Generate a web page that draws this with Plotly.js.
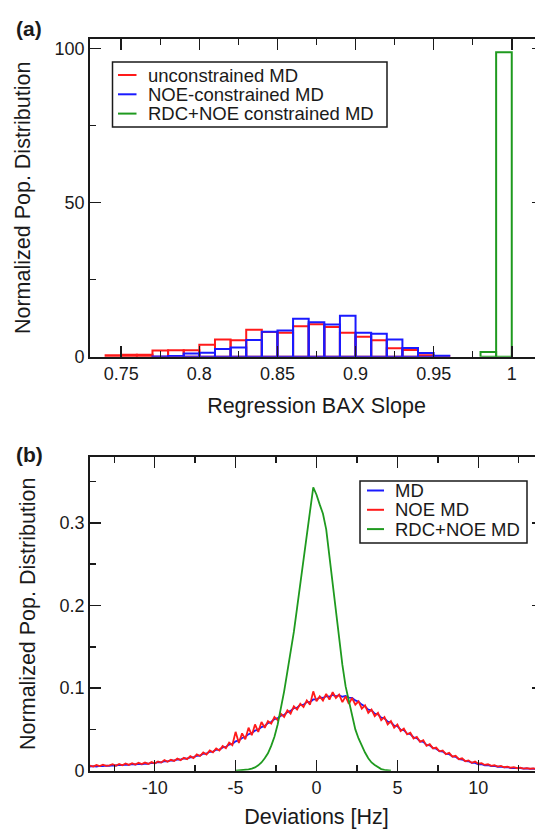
<!DOCTYPE html>
<html>
<head>
<meta charset="utf-8">
<script src="https://cdn.plot.ly/plotly-3.0.1.min.js"></script>
<style>
html, body { margin: 0; padding: 0; overflow: hidden; background: #fff; }
#chart { width: 545px; height: 829px; }
</style>
</head>
<body>
<div id="chart"></div>
<script>
// ---------- Panel (a): histogram of regression BAX slopes ----------
const slopeBins = [0.745, 0.755, 0.765, 0.775, 0.785, 0.795, 0.805, 0.815, 0.825, 0.835,
                   0.845, 0.855, 0.865, 0.875, 0.885, 0.895, 0.905, 0.915, 0.925, 0.935,
                   0.945, 0.955, 0.965, 0.975, 0.985, 0.995];
const slopeUnconstrained = [0.5, 0.6, 0.6, 2.0, 2.1, 2.1, 3.9, 5.6, 5.3, 8.7,
                            8.0, 7.8, 9.9, 10.5, 9.6, 7.8, 6.5, 5.3, 2.7, 2.2,
                            0.5, 0.2, null, null, null, null];
const slopeNOE = [null, null, null, 0.1, 0.2, 1.0, 1.3, 2.5, 3.0, 5.4,
                  8.1, 8.5, 12.3, 11.2, 10.4, 13.3, 7.8, 7.4, 5.6, 2.8,
                  1.2, 0.3, null, null, null, null];
const slopeRDC = [null, null, null, null, null, null, null, null, null, null,
                  null, null, null, null, null, null, null, null, null, null,
                  null, null, null, null, 1.5, 98.7];
const slopeBinWidth = 0.01;

// ---------- Panel (b): deviation distributions ----------
const devStart = -14.0;   // Hz, first sample
const devStep = 0.2;      // Hz, sample spacing
const devMD = [
  .0048,.0055,.0050,.0058,.0056,.0062,.0058,.0066,.0063,.0070,
  .0067,.0074,.0071,.0079,.0075,.0082,.0078,.0087,.0084,.0094,
  .0091,.0103,.0101,.0115,.0112,.0124,.0121,.0136,.0133,.0148,
  .0146,.0162,.0161,.0181,.0183,.0205,.0207,.0229,.0232,.0253,
  .0256,.0281,.0288,.0316,.0325,.0356,.0366,.0396,.0408,.0442,
  .0455,.0486,.0496,.0528,.0541,.0576,.0589,.0624,.0635,.0666,
  .0676,.0710,.0723,.0757,.0764,.0797,.0800,.0830,.0831,.0862,
  .0862,.0886,.0880,.0902,.0895,.0918,.0900,.0913,.0895,.0905,
  .0885,.0880,.0850,.0835,.0800,.0778,.0738,.0730,.0690,.0682,
  .0642,.0634,.0594,.0586,.0546,.0538,.0498,.0490,.0450,.0442,
  .0402,.0394,.0354,.0348,.0313,.0307,.0274,.0266,.0236,.0232,
  .0204,.0200,.0172,.0168,.0141,.0135,.0116,.0114,.0096,.0094,
  .0076,.0078,.0065,.0067,.0057,.0058,.0048,.0050,.0040,.0042,
  .0032,.0035,.0029,.0032,.0025,.0028,.0021,.0024,.0017,.0020,
  .0014];
const devNOE = [
  .0062,.0050,.0068,.0055,.0072,.0058,.0064,.0078,.0060,.0082,
  .0066,.0088,.0070,.0090,.0074,.0095,.0080,.0098,.0082,.0104,
  .0088,.0112,.0098,.0128,.0108,.0132,.0118,.0148,.0128,.0156,
  .0140,.0176,.0152,.0198,.0178,.0220,.0196,.0246,.0222,.0270,
  .0244,.0300,.0272,.0340,.0310,.0470,.0335,.0452,.0380,.0520,
  .0430,.0560,.0470,.0590,.0520,.0600,.0570,.0650,.0610,.0690,
  .0650,.0730,.0690,.0780,.0740,.0810,.0770,.0850,.0800,.0960,
  .0840,.0900,.0850,.0930,.0860,.0950,.0880,.0920,.0830,.0900,
  .0810,.0880,.0800,.0840,.0750,.0790,.0700,.0740,.0660,.0700,
  .0610,.0650,.0560,.0600,.0520,.0560,.0480,.0510,.0440,.0460,
  .0390,.0410,.0350,.0370,.0300,.0320,.0270,.0280,.0235,.0245,
  .0200,.0215,.0170,.0180,.0140,.0150,.0115,.0125,.0095,.0110,
  .0085,.0092,.0070,.0078,.0058,.0066,.0050,.0058,.0042,.0050,
  .0036,.0042,.0030,.0036,.0026,.0032,.0024,.0028,.0020,.0026,
  .0018];
const rdcStart = -5.0;    // Hz, first sample of RDC+NOE curve
const devRDC = [
  0, .0002, .0005, .0010, .0015, .0025, .0040, .0065, .0100, .0150,
  .0210, .0300, .0410, .0560, .0740, .0960, .1200, .1420, .1680, .1970,
  .2280, .2560, .2880, .3140, .3430, .3340, .3220, .3110, .2920, .2580,
  .2250, .1900, .1600, .1280, .1020, .0850, .0660, .0500, .0390, .0300,
  .0220, .0150, .0100, .0070, .0040, .0020, .0010, .0005, 0];

const devTickVals = [-10, -5, 0, 5, 10];
const devTickText = ['-10', '-5', '0', '5', '10'];

const legendA = ['unconstrained MD', 'NOE-constrained MD', 'RDC+NOE constrained MD'];
const legendB = ['MD', 'NOE MD', 'RDC+NOE MD'];

// ---------- styling ----------
const RED = '#ff1a1a', BLUE = '#1a1aff', GREEN = '#1f9a1f';
const FONT = 'Liberation Sans, Arial, Helvetica, sans-serif';
const INK = '#1a1a1a';
const W = 545, H = 829, ML = 90, MR = 2;
const px = v => (v - ML) / (W - ML - MR);   // pixel x -> paper x
const py = v => 1 - v / H;                  // pixel y -> paper y

function histBar(y, color) {
  return {type: 'bar', x: slopeBins, y: y, width: slopeBinWidth,
          marker: {color: 'rgba(0,0,0,0)', line: {color: color, width: 2}},
          xaxis: 'x', yaxis: 'y', showlegend: false, hoverinfo: 'skip'};
}
function devLine(y, x0, color) {
  return {type: 'scatter', mode: 'lines', x0: x0, dx: devStep, y: y,
          line: {color: color, width: 1.8}, xaxis: 'x2', yaxis: 'y2',
          showlegend: false, hoverinfo: 'skip'};
}

const data = [
  histBar(slopeUnconstrained, RED),
  histBar(slopeNOE, BLUE),
  histBar(slopeRDC, GREEN),
  devLine(devMD, devStart, BLUE),
  devLine(devNOE, devStart, RED),
  devLine(devRDC, rdcStart, GREEN)
];

const axisCommon = {
  showline: true, linecolor: INK, linewidth: 1.8, mirror: 'ticks',
  ticks: 'inside', ticklen: 11, tickwidth: 1.5, tickcolor: INK,
  showgrid: false, zeroline: false,
  tickfont: {family: FONT, size: 18, color: INK},
  automargin: false
};
const minorCommon = {ticks: 'inside', ticklen: 6, tickwidth: 1.5, tickcolor: INK};

// custom legends (box, sample lines, labels)
const shapes = [];
const annotations = [];
function addLegend(box, rows, sampleX, textX, labels, colors) {
  shapes.push({type: 'rect', xref: 'paper', yref: 'paper',
               x0: px(box[0]), x1: px(box[2]), y0: py(box[3]), y1: py(box[1]),
               line: {color: INK, width: 1.5}, fillcolor: 'white', layer: 'above'});
  labels.forEach((t, i) => {
    shapes.push({type: 'line', xref: 'paper', yref: 'paper',
                 x0: px(sampleX[0]), x1: px(sampleX[1]), y0: py(rows[i]), y1: py(rows[i]),
                 line: {color: colors[i], width: 2}, layer: 'above'});
    annotations.push({xref: 'paper', yref: 'paper', x: px(textX), y: py(rows[i]),
                      xanchor: 'left', yanchor: 'middle', showarrow: false, text: t,
                      font: {family: FONT, size: 18.5, color: INK}});
  });
}
addLegend([112.5, 62, 387, 127], [75, 94.3, 113.6], [118, 136.5], 146, legendA, [RED, BLUE, GREEN]);
addLegend([360, 481, 527, 543], [490.5, 509.8, 529.1], [367, 384], 393, legendB, [BLUE, RED, GREEN]);

annotations.push({xref: 'paper', yref: 'paper', x: px(29), y: py(29), xanchor: 'center', yanchor: 'middle',
                  showarrow: false, text: '<b>(a)</b>', font: {family: FONT, size: 21, color: INK}});
annotations.push({xref: 'paper', yref: 'paper', x: px(29), y: py(454), xanchor: 'center', yanchor: 'middle',
                  showarrow: false, text: '<b>(b)</b>', font: {family: FONT, size: 21, color: INK}});

const titleFont = {family: FONT, size: 21.5, color: INK};

const layout = {
  width: W, height: H,
  margin: {l: ML, r: MR, t: 0, b: 0, pad: 0},
  paper_bgcolor: 'white', plot_bgcolor: 'white',
  showlegend: false,
  barmode: 'overlay',
  xaxis: Object.assign({}, axisCommon, {
    domain: [0, 1], anchor: 'y', range: [0.73, 1.02],
    tickmode: 'linear', tick0: 0.75, dtick: 0.05,
    minor: Object.assign({}, minorCommon, {tick0: 0.75, dtick: 0.025}),
    title: {text: 'Regression BAX Slope', font: titleFont, standoff: 15}
  }),
  yaxis: Object.assign({}, axisCommon, {
    domain: [py(356.7), py(39)], anchor: 'x', range: [0, 103],
    tickmode: 'linear', tick0: 0, dtick: 50,
    minor: Object.assign({}, minorCommon, {tick0: 0, dtick: 25}),
    title: {text: 'Normalized Pop. Distribution', font: titleFont, standoff: 18}
  }),
  xaxis2: Object.assign({}, axisCommon, {
    domain: [0, 1], anchor: 'y2', range: [-14, 14],
    tickmode: 'array', tickvals: devTickVals, ticktext: devTickText,
    minor: Object.assign({}, minorCommon, {tickmode: 'linear', tick0: 0, dtick: 2.5}),
    title: {text: 'Deviations [Hz]', font: titleFont, standoff: 15}
  }),
  yaxis2: Object.assign({}, axisCommon, {
    domain: [py(770.7), py(456.7)], anchor: 'x2', range: [0, 0.38],
    tickmode: 'linear', tick0: 0, dtick: 0.1,
    minor: Object.assign({}, minorCommon, {tick0: 0, dtick: 0.05}),
    title: {text: 'Normalized Pop. Distribution', font: titleFont, standoff: 18}
  }),
  shapes: shapes,
  annotations: annotations
};

Plotly.newPlot('chart', data, layout, {displayModeBar: false, staticPlot: true});
</script>
</body>
</html>
